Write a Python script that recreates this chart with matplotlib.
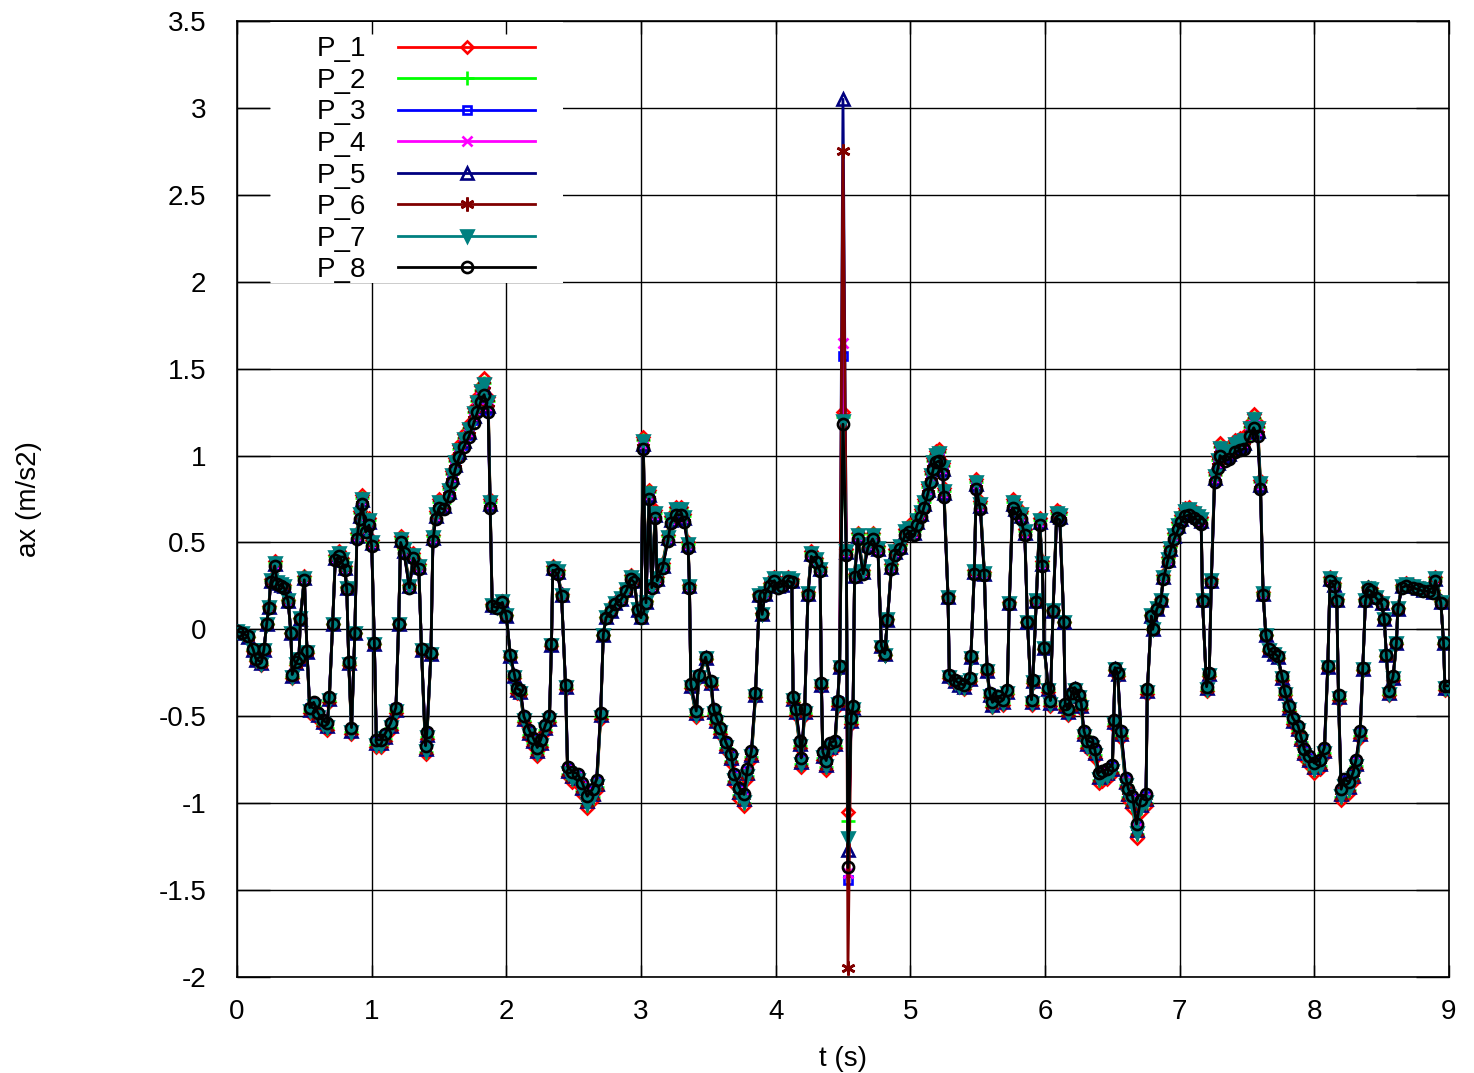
import matplotlib
matplotlib.use('Agg')
import matplotlib.pyplot as plt
from matplotlib.patches import Rectangle
import numpy as np

plt.rcParams['font.family'] = ['Liberation Sans', 'DejaVu Sans']
plt.rcParams['font.size'] = 20

# Black curve (P_8): time (s) and ax (m/s2)
t8 = [0.0, 0.04, 0.08, 0.12, 0.14, 0.18, 0.20, 0.22, 0.236, 0.25, 0.28, 0.30, 0.33, 0.35, 0.38,
      0.40, 0.41, 0.44, 0.46, 0.47, 0.50, 0.52, 0.54, 0.57, 0.60, 0.635, 0.67, 0.685, 0.71, 0.73,
      0.76, 0.78, 0.80, 0.815, 0.83, 0.85, 0.875, 0.89, 0.91, 0.93, 0.955, 0.98, 1.0, 1.02, 1.035,
      1.07, 1.10, 1.14, 1.18, 1.20, 1.215, 1.24, 1.28, 1.31, 1.35, 1.37, 1.40, 1.41, 1.44, 1.455,
      1.475, 1.50, 1.54, 1.575, 1.60, 1.62, 1.65, 1.685, 1.72, 1.76, 1.785, 1.81, 1.835, 1.865, 1.88,
      1.895, 1.93, 1.97, 2.0, 2.03, 2.06, 2.08, 2.105, 2.13, 2.17, 2.20, 2.23, 2.255, 2.29, 2.32,
      2.335, 2.345, 2.38, 2.41, 2.44, 2.455, 2.49, 2.53, 2.565, 2.60, 2.64, 2.67, 2.70, 2.72, 2.74,
      2.78, 2.81, 2.85, 2.89, 2.925, 2.95, 2.975, 3.0, 3.017, 3.037, 3.06, 3.08, 3.106, 3.12, 3.16,
      3.20, 3.22, 3.26, 3.30, 3.32, 3.35, 3.36, 3.37, 3.41, 3.43, 3.48, 3.52, 3.54, 3.56, 3.59,
      3.63, 3.67, 3.69, 3.73, 3.765, 3.79, 3.82, 3.85, 3.88, 3.90, 3.92, 3.955, 3.99, 4.02, 4.05,
      4.09, 4.12, 4.13, 4.15, 4.18, 4.19, 4.215, 4.24, 4.265, 4.30, 4.33, 4.34, 4.35, 4.375, 4.40,
      4.44, 4.46, 4.475, 4.50, 4.525, 4.537, 4.56, 4.575, 4.586, 4.61, 4.65, 4.685, 4.72, 4.76, 4.785,
      4.81, 4.83, 4.86, 4.885, 4.92, 4.96, 4.99, 5.03, 5.05, 5.08, 5.10, 5.13, 5.15, 5.17, 5.19,
      5.215, 5.24, 5.25, 5.28, 5.29, 5.33, 5.36, 5.40, 5.44, 5.45, 5.475, 5.49, 5.52, 5.55, 5.57,
      5.59, 5.61, 5.65, 5.69, 5.72, 5.735, 5.76, 5.78, 5.82, 5.85, 5.87, 5.90, 5.91, 5.935, 5.96,
      5.98, 5.995, 6.025, 6.04, 6.06, 6.087, 6.11, 6.14, 6.15, 6.17, 6.20, 6.22, 6.25, 6.27, 6.29,
      6.31, 6.35, 6.37, 6.40, 6.42, 6.46, 6.50, 6.51, 6.52, 6.54, 6.565, 6.60, 6.62, 6.65, 6.68,
      6.71, 6.75, 6.76, 6.79, 6.80, 6.83, 6.86, 6.88, 6.91, 6.93, 6.96, 6.99, 7.01, 7.04, 7.07,
      7.11, 7.14, 7.16, 7.17, 7.20, 7.22, 7.235, 7.26, 7.285, 7.30, 7.335, 7.37, 7.41, 7.45, 7.48,
      7.52, 7.55, 7.58, 7.60, 7.62, 7.64, 7.66, 7.70, 7.73, 7.76, 7.78, 7.81, 7.84, 7.88, 7.90,
      7.925, 7.96, 8.0, 8.04, 8.075, 8.10, 8.117, 8.15, 8.167, 8.18, 8.20, 8.22, 8.26, 8.29, 8.31,
      8.34, 8.36, 8.38, 8.40, 8.42, 8.46, 8.50, 8.52, 8.535, 8.555, 8.585, 8.61, 8.62, 8.65, 8.68,
      8.73, 8.77, 8.81, 8.85, 8.88, 8.90, 8.94, 8.96, 8.97, 9.0]
ax8 = [-0.01, -0.02, -0.04, -0.115, -0.17, -0.19, -0.115, 0.03, 0.125, 0.27, 0.365, 0.26, 0.25, 0.24, 0.16,
       -0.02, -0.26, -0.19, -0.165, 0.06, 0.285, -0.125, -0.45, -0.42, -0.48, -0.52, -0.54, -0.39, 0.03, 0.40,
       0.42, 0.385, 0.34, 0.23, -0.19, -0.565, -0.02, 0.52, 0.635, 0.72, 0.56, 0.60, 0.48, -0.08, -0.635,
       -0.635, -0.60, -0.54, -0.45, 0.03, 0.50, 0.44, 0.24, 0.41, 0.35, -0.115, -0.67, -0.59, -0.135, 0.51,
       0.635, 0.70, 0.69, 0.77, 0.85, 0.92, 0.99, 1.05, 1.105, 1.19, 1.25, 1.31, 1.35, 1.25, 0.70,
       0.135, 0.125, 0.155, 0.077, -0.15, -0.26, -0.34, -0.35, -0.50, -0.58, -0.625, -0.68, -0.635, -0.55, -0.50,
       -0.087, 0.34, 0.32, 0.19, -0.32, -0.79, -0.82, -0.83, -0.885, -0.96, -0.92, -0.865, -0.48, -0.03, 0.067,
       0.105, 0.145, 0.17, 0.22, 0.29, 0.27, 0.11, 0.067, 1.035, 0.153, 0.75, 0.24, 0.64, 0.28, 0.355,
       0.51, 0.61, 0.66, 0.66, 0.62, 0.47, 0.24, -0.315, -0.47, -0.26, -0.16, -0.30, -0.46, -0.51, -0.565,
       -0.65, -0.72, -0.83, -0.91, -0.95, -0.805, -0.70, -0.365, 0.19, 0.086, 0.20, 0.25, 0.28, 0.24, 0.25,
       0.28, 0.27, -0.39, -0.46, -0.64, -0.74, -0.46, 0.20, 0.42, 0.385, 0.335, -0.31, -0.705, -0.755, -0.655,
       -0.64, -0.41, -0.21, 1.18, 0.43, -1.37, -0.51, -0.44, 0.30, 0.52, 0.32, 0.47, 0.52, 0.45, -0.095,
       -0.14, 0.055, 0.35, 0.43, 0.46, 0.54, 0.56, 0.54, 0.60, 0.645, 0.70, 0.78, 0.85, 0.92, 0.96,
       0.97, 0.895, 0.76, 0.18, -0.26, -0.29, -0.31, -0.32, -0.28, -0.155, 0.32, 0.81, 0.69, 0.31, -0.23,
       -0.365, -0.42, -0.385, -0.405, -0.35, 0.145, 0.70, 0.67, 0.635, 0.54, 0.04, -0.405, -0.29, 0.16, 0.60,
       0.365, -0.105, -0.335, -0.41, 0.105, 0.64, 0.63, 0.04, -0.43, -0.46, -0.365, -0.335, -0.375, -0.43, -0.585,
       -0.64, -0.65, -0.69, -0.825, -0.815, -0.805, -0.78, -0.52, -0.22, -0.25, -0.585, -0.855, -0.92, -0.96, -1.12,
       -0.98, -0.95, -0.345, 0.077, 0.0, 0.115, 0.163, 0.29, 0.39, 0.45, 0.52, 0.575, 0.615, 0.65, 0.66,
       0.64, 0.625, 0.605, 0.163, -0.33, -0.25, 0.27, 0.845, 0.93, 1.0, 0.97, 0.98, 1.02, 1.03, 1.04,
       1.11, 1.16, 1.11, 0.805, 0.20, -0.03, -0.115, -0.135, -0.155, -0.27, -0.355, -0.44, -0.51, -0.555, -0.615,
       -0.69, -0.73, -0.77, -0.75, -0.68, -0.21, 0.28, 0.25, 0.163, -0.38, -0.92, -0.86, -0.88, -0.82, -0.75,
       -0.585, -0.22, 0.163, 0.23, 0.22, 0.18, 0.145, 0.057, -0.145, -0.355, -0.27, -0.077, 0.115, 0.24, 0.25,
       0.24, 0.23, 0.22, 0.22, 0.21, 0.28, 0.153, -0.077, -0.325, -0.325]

names = ['P_1', 'P_2', 'P_3', 'P_4', 'P_5', 'P_6', 'P_7', 'P_8']
# how far each series swings past the black one at the extremes
gains = [1.07, 1.05, 1.01, 1.02, 1.03, 1.04, 1.045, 1.0]
# values at the spike around t = 4.5 s
spike_hi = [1.25, 1.22, 1.57, 1.65, 3.05, 2.75, 1.20, 1.18]
spike_lo = [-1.05, -1.10, -1.44, -1.40, -1.27, -1.95, -1.20, -1.37]

colors = ['#ff0000', '#00ff00', '#0000ff', '#ff00ff', '#000080', '#800000', '#008080', '#000000']
markers = ['D', '+', 's', 'x', '^', (6, 2, 0), 'v', 'o']
msizes = [6.5, 10, 5.5, 7.5, 8, 10, 9, 8]
filled = [False, True, False, True, False, True, True, False]

fig = plt.figure(figsize=(14.74, 10.73), dpi=100)
ax = fig.add_axes([0.1608, 0.0895, 0.8222, 0.8909])

t8 = np.array(t8)
base = np.array(ax8)
i_hi = int(np.argmin(np.abs(t8 - 4.50)))
i_lo = int(np.argmin(np.abs(t8 - 4.537)))

for i, name in enumerate(names):
    y = base * gains[i]
    y[i_hi] = spike_hi[i]
    y[i_lo] = spike_lo[i]
    ax.plot(t8, y, '-', color=colors[i], linewidth=2.0, marker=markers[i],
            markersize=msizes[i], markeredgewidth=1.9,
            markerfacecolor=colors[i] if filled[i] else 'none',
            markeredgecolor=colors[i], label=name, zorder=2 + i * 0.1)

# Grid drawn by hand so the key box can cover it while ticks stay on top
for gx in range(0, 10):
    ax.axvline(gx, color='black', linewidth=1.0, zorder=0.5)
for gy in np.arange(-2, 3.51, 0.5):
    ax.axhline(gy, color='black', linewidth=1.0, zorder=0.5)

# white box behind the key
ax.add_patch(Rectangle((0.0272, 0.726), 0.242, 0.273, transform=ax.transAxes,
                       facecolor='white', edgecolor='none', zorder=1))

ax.set_xlim(0, 9)
ax.set_ylim(-2, 3.5)
ax.set_xticks(range(0, 10))
ax.set_yticks(np.arange(-2, 3.51, 0.5))
ax.set_yticklabels(['-2', '-1.5', '-1', '-0.5', '0', '0.5', '1', '1.5', '2', '2.5', '3', '3.5'])
ax.tick_params(direction='in', top=True, right=True, width=1.0)
ax.tick_params(axis='x', length=9, pad=16)
ax.tick_params(axis='y', length=24, pad=22)
for s in ax.spines.values():
    s.set_linewidth(1.2)

ax.set_xlabel('t (s)', labelpad=15)
ax.set_ylabel('ax (m/s2)', labelpad=84)

leg = ax.legend(loc='upper left', bbox_to_anchor=(0.066, 0.984), markerfirst=False, numpoints=1,
                handlelength=4.93, handletextpad=1.15, labelspacing=0.2, borderpad=0,
                borderaxespad=0, frameon=False, fontsize=20)
leg.set_zorder(1.2)
for txt in leg.get_texts():
    txt.set_ha('right')

fig.savefig('out.png', dpi=100)
